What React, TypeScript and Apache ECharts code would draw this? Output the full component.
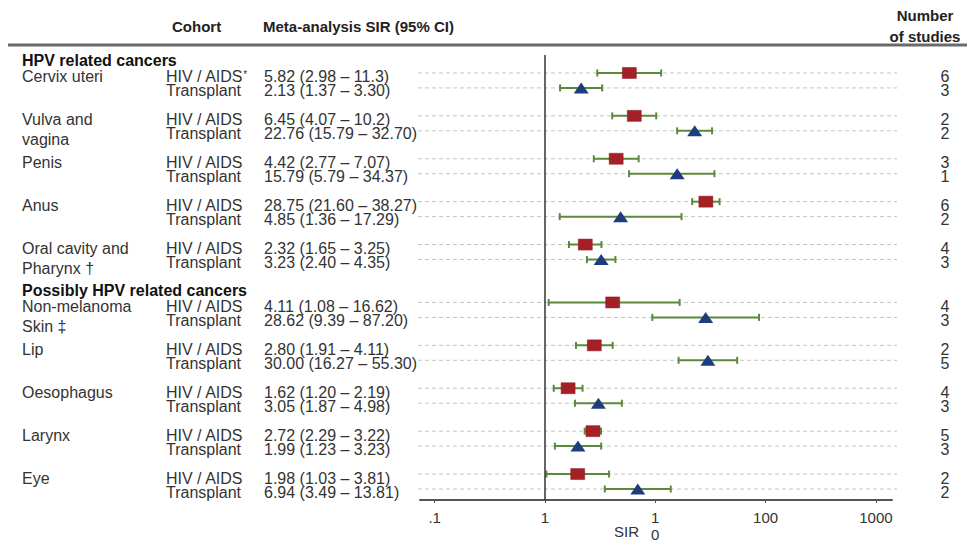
import React, { useEffect, useRef } from 'react';
import * as echarts from 'echarts';

const sections = ['HPV related cancers', 'Possibly HPV related cancers'];
const sectionStart = [0, 5];
const cancers = ['Cervix uteri', 'Vulva and\nvagina', 'Penis', 'Anus', 'Oral cavity and\nPharynx †', 'Non-melanoma\nSkin ‡', 'Lip', 'Oesophagus', 'Larynx', 'Eye'];
const cohorts = ['HIV / AIDS', 'Transplant'];
const hivSIR = ['5.82', '6.45', '4.42', '28.75', '2.32', '4.11', '2.80', '1.62', '2.72', '1.98'];
const hivLo = ['2.98', '4.07', '2.77', '21.60', '1.65', '1.08', '1.91', '1.20', '2.29', '1.03'];
const hivHi = ['11.3', '10.2', '7.07', '38.27', '3.25', '16.62', '4.11', '2.19', '3.22', '3.81'];
const txSIR = ['2.13', '22.76', '15.79', '4.85', '3.23', '28.62', '30.00', '3.05', '1.99', '6.94'];
const txLo = ['1.37', '15.79', '5.79', '1.36', '2.40', '9.39', '16.27', '1.87', '1.23', '3.49'];
const txHi = ['3.30', '32.70', '34.37', '17.29', '4.35', '87.20', '55.30', '4.98', '3.23', '13.81'];
const hivStudies = [6, 2, 3, 6, 4, 4, 2, 4, 5, 2];
const txStudies = [3, 2, 1, 2, 3, 3, 5, 3, 3, 2];
const xTicks = [0.1, 1, 10, 100, 1000];
const xTickLabels = ['.1', '1', '1\n0', '100', '1000'];
const xTitle = 'SIR';

const FONT = '"Liberation Sans", Arial, Helvetica, sans-serif';
const lg = (v: string | number) => Math.log10(typeof v === 'string' ? parseFloat(v) : v);
const X_MIN = Math.log10(0.0736);
const X_MAX = Math.log10(1400);

// vertical slot of each row (axis units)
const rowY = (g: number, c: number) =>
  18 + g * 43 + sectionStart.filter((s) => s > 0 && s <= g).length * 15 + c * 15;

export default function App() {
  const ref = useRef<HTMLDivElement>(null);
  useEffect(() => {
    document.body.style.margin = '0';
    const chart = echarts.init(ref.current!, undefined, { renderer: 'svg' });
    const rows: number[][] = [];
    cancers.forEach((_, g) => {
      rows.push([X_MIN, rowY(g, 0)]);
      rows.push([X_MIN, rowY(g, 1)]);
    });
    const ciData: number[][] = [];
    cancers.forEach((_, g) => {
      ciData.push([lg(hivLo[g]), lg(hivHi[g]), rowY(g, 0)]);
      ciData.push([lg(txLo[g]), lg(txHi[g]), rowY(g, 1)]);
    });
    const hivPts = cancers.map((_, g) => [lg(hivSIR[g]), rowY(g, 0)]);
    const txPts = cancers.map((_, g) => [lg(txSIR[g]), rowY(g, 1)]);
    const tickVals = xTicks.map((t) => Math.log10(t));

    chart.setOption({
      animation: false,
      grid: { left: 420, right: 75, top: 55, bottom: 42 },
      xAxis: {
        type: 'value',
        position: 'bottom',
        min: X_MIN,
        max: X_MAX,
        splitLine: { show: false },
        axisLine: { show: true, onZero: false, lineStyle: { color: '#555', width: 2 } },
        axisTick: { show: true, customValues: tickVals, length: 3, lineStyle: { color: '#555', width: 1 } },
        axisLabel: {
          customValues: tickVals,
          formatter: (v: number) => {
            const i = tickVals.findIndex((t) => Math.abs(t - v) < 1e-6);
            return i >= 0 ? xTickLabels[i] : '';
          },
          color: '#333',
          fontSize: 15,
          fontFamily: FONT,
          margin: 9,
          lineHeight: 17,
        },
      },
      yAxis: { type: 'value', inverse: true, min: 0, max: 446, show: false },
      series: [
        {
          type: 'custom',
          name: 'guides',
          silent: true,
          data: rows,
          encode: { x: 0, y: 1 },
          renderItem: (params: any, api: any) => {
            const p = api.coord([api.value(0), api.value(1)]);
            const cs = params.coordSys;
            return {
              type: 'line',
              shape: { x1: cs.x - 2, y1: p[1], x2: cs.x + cs.width + 5, y2: p[1] },
              style: { stroke: '#c4c4c4', lineWidth: 1, lineDash: [4, 3] },
            };
          },
          markLine: {
            silent: true,
            symbol: 'none',
            label: { show: false },
            lineStyle: { type: 'solid', color: '#333', width: 1.5 },
            data: [{ xAxis: 0 }],
          },
          z: 1,
        },
        {
          type: 'custom',
          name: 'CI',
          silent: true,
          data: ciData,
          encode: { x: [0, 1], y: 2 },
          renderItem: (_p: any, api: any) => {
            const a = api.coord([api.value(0), api.value(2)]);
            const b = api.coord([api.value(1), api.value(2)]);
            const h = 3.5;
            const style = { stroke: '#5b8a3c', lineWidth: 2 };
            return {
              type: 'group',
              children: [
                { type: 'line', shape: { x1: a[0], y1: a[1], x2: b[0], y2: b[1] }, style },
                { type: 'line', shape: { x1: a[0], y1: a[1] - h, x2: a[0], y2: a[1] + h }, style },
                { type: 'line', shape: { x1: b[0], y1: b[1] - h, x2: b[0], y2: b[1] + h }, style },
              ],
            };
          },
          z: 2,
        },
        {
          type: 'scatter',
          name: cohorts[0],
          data: hivPts,
          symbol: 'rect',
          symbolSize: [14, 11],
          itemStyle: { color: '#a51f27', borderColor: '#8a1a20', borderWidth: 0.5, opacity: 1 },
          z: 3,
        },
        {
          type: 'scatter',
          name: cohorts[1],
          data: txPts,
          symbol: 'triangle',
          symbolSize: [15, 11],
          itemStyle: { color: '#1f3d7e', opacity: 1 },
          z: 3,
        },
      ],
    });

    const py = (v: number) => chart.convertToPixel({ yAxisIndex: 0 }, v) as number;
    const els: any[] = [];
    const txt = (x: number, y: number, text: string, opts: any = {}) => {
      els.push({
        type: 'text',
        x,
        y,
        style: {
          text,
          fill: opts.fill || '#333',
          font: `${opts.bold ? 'bold ' : ''}${opts.size || 16}px ${FONT}`,
          lineHeight: opts.lh || 14,
          textAlign: opts.align || 'left',
          textVerticalAlign: 'middle',
        },
      });
    };
    // headers
    txt(172, 26, 'Cohort', { bold: true, size: 15, fill: '#222' });
    txt(263, 26, 'Meta-analysis SIR (95% CI)', { bold: true, size: 15, fill: '#222' });
    txt(925, 15, 'Number', { bold: true, size: 15, fill: '#222', align: 'center' });
    txt(925, 36, 'of studies', { bold: true, size: 15, fill: '#222', align: 'center' });
    els.push({
      type: 'rect',
      shape: { x: 8, y: 43.5, width: 959, height: 3 },
      style: { fill: '#6a6a6a' },
    });
    sections.forEach((s, i) => {
      txt(22, py(rowY(sectionStart[i], 0)) - 12, s, { bold: true, fill: '#111' });
    });
    cancers.forEach((name, g) => {
      const y0 = py(rowY(g, 0));
      const y1 = py(rowY(g, 1));
      name.split('\n').forEach((line, k) => txt(22, y0 + 4 + k * 20, line));
      if (g === 0) {
        els.push({
          type: 'text',
          x: 166,
          y: y0 + 4,
          style: {
            text: `{a|${cohorts[0]}}{s|*}`,
            textVerticalAlign: 'middle',
            rich: {
              a: { fontSize: 16, fontFamily: FONT, fill: '#333', lineHeight: 14 },
              s: { fontSize: 10, fontFamily: FONT, fill: '#333', verticalAlign: 'top', lineHeight: 14 },
            },
          },
        });
      } else {
        txt(166, y0 + 4, cohorts[0]);
      }
      txt(166, y1 + 3, cohorts[1]);
      txt(264, y0 + 4, `${hivSIR[g]} (${hivLo[g]} – ${hivHi[g]})`);
      txt(264, y1 + 3, `${txSIR[g]} (${txLo[g]} – ${txHi[g]})`);
      txt(945, y0 + 4, String(hivStudies[g]), { align: 'center' });
      txt(945, y1 + 3, String(txStudies[g]), { align: 'center' });
    });
    txt(614, 531, xTitle, { size: 15 });
    chart.setOption({ graphic: { elements: els } });

    return () => chart.dispose();
  }, []);
  return <div ref={ref} style={{ width: 967, height: 543 }} />;
}
